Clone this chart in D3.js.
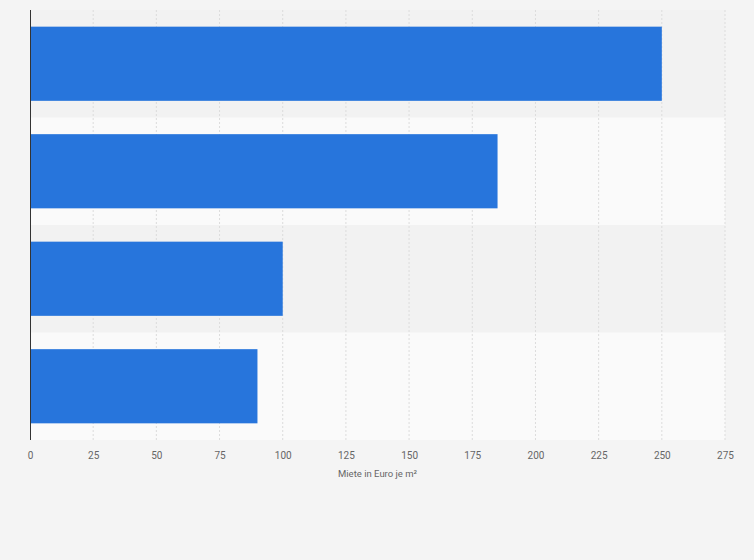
<!DOCTYPE html>
<html><head><meta charset="utf-8">
<script src="https://cdn.jsdelivr.net/npm/d3@7"></script>
<style>body{margin:0;background:#f4f4f4;font-family:Roboto,"Open Sans",sans-serif}</style>
</head><body>
<svg id="c" width="754" height="560"></svg>
<script>
const categories = ["A", "B", "C", "D"];
const values = [250, 185, 100, 90];
const ticks = [0, 25, 50, 75, 100, 125, 150, 175, 200, 225, 250, 275];
const xTitle = "Miete in Euro je m²";

const svg = d3.select("#c");
const m = {l: 30, r: 29, t: 10, b: 120};
const W = 754 - m.l - m.r, H = 560 - m.t - m.b;
const g = svg.append("g").attr("transform", `translate(${m.l},${m.t})`);
const x = d3.scaleLinear().domain([0, 275]).range([0, W]);
const y = d3.scaleBand().domain(categories).range([0, H]);

g.selectAll("rect.band").data(categories).enter().append("rect")
  .attr("x", 0).attr("width", W).attr("y", d => y(d)).attr("height", y.bandwidth())
  .attr("fill", (d, i) => i % 2 ? "#fafafa" : "#f2f2f2");

g.selectAll("line.grid").data(ticks.slice(1)).enter().append("line")
  .attr("x1", d => x(d)).attr("x2", d => x(d)).attr("y1", 0).attr("y2", H)
  .attr("stroke", "#dcdcdc").attr("stroke-dasharray", "2,2");

const inner = d3.scaleBand().domain(categories).range([0, H]).paddingInner(0.31).paddingOuter(0.155);
g.selectAll("rect.bar").data(values).enter().append("rect")
  .attr("x", 0).attr("y", (d, i) => inner(categories[i]))
  .attr("height", inner.bandwidth()).attr("width", d => x(d))
  .attr("fill", "#2775dc");

g.append("line").attr("x1", 0.5).attr("x2", 0.5).attr("y1", 0).attr("y2", H)
  .attr("stroke", "#333").attr("stroke-width", 1);

const ax = g.append("g").attr("transform", `translate(0,${H})`)
  .call(d3.axisBottom(x).tickValues(ticks).tickSize(0).tickPadding(12));
ax.select(".domain").remove();
ax.selectAll("text").attr("fill", "#666").attr("font-size", 10).attr("font-family", "Roboto,sans-serif");

g.append("text").attr("x", x(137.5)).attr("y", H + 37).attr("text-anchor", "middle")
  .attr("font-size", 9.5).attr("fill", "#666").text(xTitle);
</script>
</body></html>
